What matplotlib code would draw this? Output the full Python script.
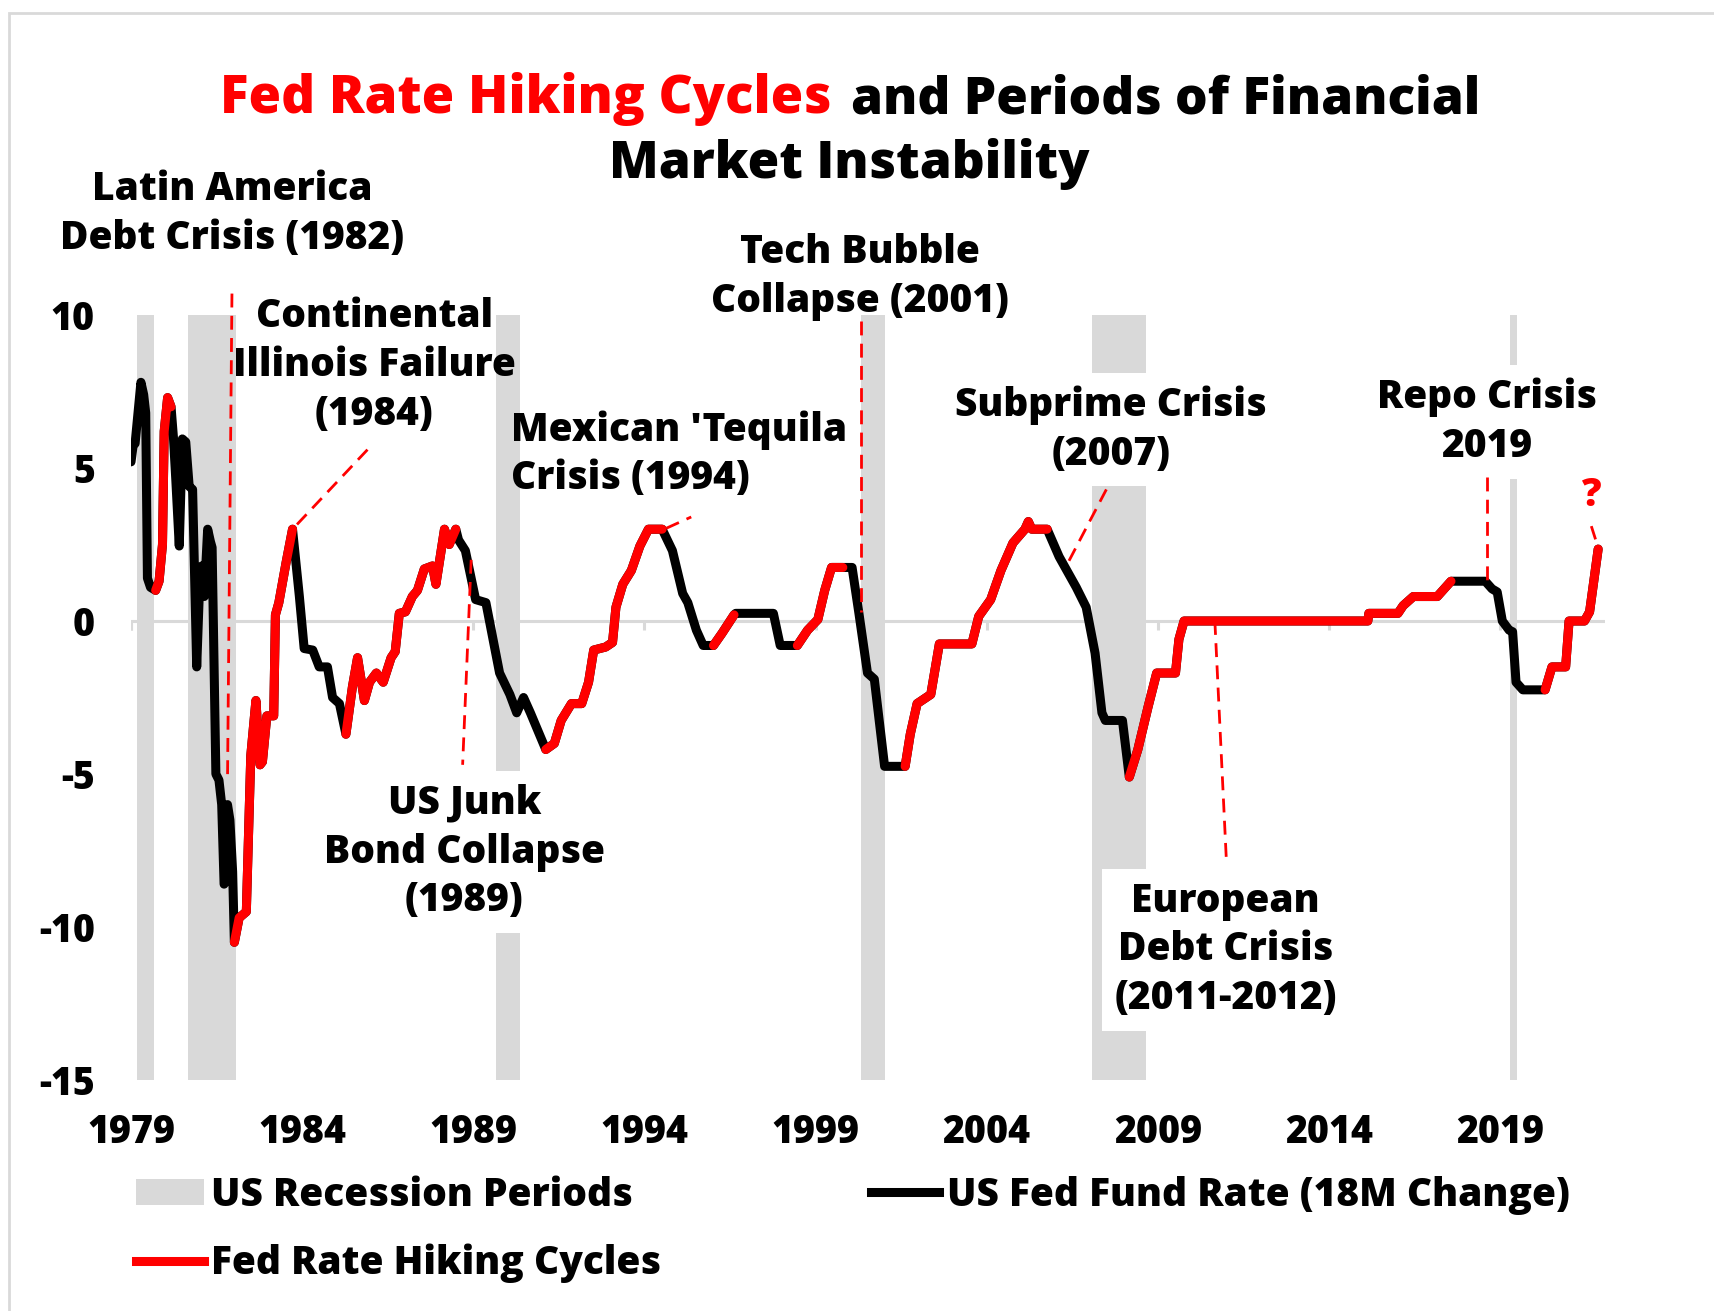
import matplotlib
matplotlib.use('Agg')
import matplotlib.pyplot as plt
import numpy as np
from matplotlib.patches import Patch, Rectangle
from matplotlib.lines import Line2D

plt.rcParams['font.family'] = ['Open Sans', 'DejaVu Sans']
plt.rcParams['font.weight'] = 800
plt.rcParams['axes.unicode_minus'] = False

# 18-month change in the Fed Funds rate (decimal year, percentage points)
dates = [1979.83, 1979.9, 1979.95, 1980.12, 1980.2, 1980.26, 1980.31, 1980.4, 1980.55,
         1980.65, 1980.75, 1980.8, 1980.9, 1981.0,
         1981.07, 1981.14, 1981.24, 1981.33, 1981.43, 1981.53, 1981.63, 1981.75, 1981.82,
         1981.9, 1981.97, 1982.07, 1982.15, 1982.2, 1982.31, 1982.4, 1982.48, 1982.55,
         1982.6, 1982.65, 1982.72, 1982.8, 1982.85,
         1982.99, 1983.2, 1983.33, 1983.48, 1983.6, 1983.67, 1983.8, 1984.0, 1984.05,
         1984.15, 1984.36, 1984.55,
         1984.75, 1984.89, 1985.14, 1985.33, 1985.57, 1985.72, 1985.92, 1986.11,
         1986.3, 1986.45, 1986.65, 1986.8, 1987.0, 1987.2, 1987.43, 1987.55, 1987.67,
         1987.85, 1988.05, 1988.2, 1988.4, 1988.64, 1988.74, 1988.99, 1989.13, 1989.32,
         1989.4, 1989.6, 1989.9, 1990.2, 1990.6, 1990.9, 1991.1, 1991.3, 1991.5, 1991.95,
         1992.2, 1992.4, 1992.7, 1993.0, 1993.2, 1993.35, 1993.7, 1993.9, 1994.0, 1994.2,
         1994.45, 1994.7, 1994.95, 1995.35,
         1995.65, 1995.95, 1996.1, 1996.35, 1996.55, 1996.85,
         1997.1, 1997.45,
         1997.5, 1998.6, 1998.8, 1999.3,
         1999.6, 1999.9, 2000.1, 2000.3, 2000.63,
         2000.9, 2001.1, 2001.35, 2001.55, 2001.85, 2002.45,
         2002.6, 2002.8, 2003.2, 2003.45, 2004.4, 2004.6, 2004.95, 2005.25, 2005.6,
         2005.95, 2006.05, 2006.15, 2006.6,
         2006.95, 2007.45, 2007.74, 2008.0, 2008.2, 2008.3, 2008.8, 2009.0,
         2009.25, 2009.55, 2009.8, 2010.35, 2010.45, 2010.6,
         2015.97,
         2016.0, 2016.85, 2017.0, 2017.3, 2018.0, 2018.2, 2018.4,
         2019.4, 2019.6, 2019.75, 2019.9, 2020.1, 2020.2, 2020.3, 2020.5, 2021.15,
         2021.35, 2021.75, 2021.85, 2022.3, 2022.45, 2022.7]
rate_chg = [5.2, 5.8, 5.8, 7.8, 7.4, 6.8, 1.4, 1.1, 1.0,
            1.3, 2.5, 6.2, 7.3, 7.0,
            6.0, 4.6, 2.45, 5.95, 5.85, 4.4, 4.3, -1.5, 0.7,
            1.8, 0.8, 3.0, 2.6, 2.4, -5.0, -5.2, -6.0, -8.6,
            -8.5, -6.0, -6.5, -8.2, -10.5,
            -9.7, -9.5, -4.4, -2.6, -4.7, -4.6, -3.1, -3.1, 0.2,
            0.6, 1.9, 3.0,
            0.8, -0.9, -0.95, -1.5, -1.5, -2.5, -2.7, -3.7,
            -2.15, -1.2, -2.6, -2.0, -1.7, -2.0, -1.2, -1.0, 0.25,
            0.3, 0.8, 1.0, 1.7, 1.8, 1.2, 3.0, 2.5, 3.0,
            2.65, 2.3, 0.7, 0.6, -1.7, -2.4, -3.0, -2.5, -3.0, -4.2,
            -4.0, -3.25, -2.7, -2.7, -2.0, -0.95, -0.85, -0.7, 0.45, 1.2,
            1.65, 2.45, 3.0, 3.0,
            2.3, 0.9, 0.6, -0.3, -0.8, -0.8,
            -0.4, 0.2,
            0.25, 0.25, -0.8, -0.8,
            -0.3, 0.05, 1.0, 1.75, 1.75,
            1.75, 0.25, -1.7, -1.9, -4.75, -4.75,
            -3.7, -2.7, -2.4, -0.75, -0.75, 0.15, 0.7, 1.65, 2.55,
            3.0, 3.25, 3.0, 3.0,
            2.1, 1.1, 0.45, -1.05, -3.0, -3.25, -3.25, -5.1,
            -4.2, -2.8, -1.7, -1.7, -0.6, 0.0,
            0.0,
            0.25, 0.25, 0.5, 0.8, 0.8, 1.05, 1.3,
            1.3, 1.05, 0.95, 0.0, -0.3, -0.35, -2.0, -2.25, -2.25,
            -1.5, -1.5, 0.0, 0.0, 0.3, 2.35]

hike_start = [1980.55, 1982.85, 1986.11, 1991.95, 1996.85, 1999.3, 2002.45, 2009.0, 2015.97, 2021.15]
hike_end = [1981.0, 1984.55, 1989.32, 1995.35, 1997.45, 2000.63, 2006.6, 2010.6, 2018.4, 2022.7]

rec_start = [1980.0, 1981.5, 1990.5, 2001.17, 2007.92, 2020.12]
rec_end = [1980.5, 1982.9, 1991.2, 2001.85, 2009.5, 2020.33]

tick_years = [1979, 1984, 1989, 1994, 1999, 2004, 2009, 2014, 2019]
y_ticks = [10, 5, 0, -5, -10, -15]

# crisis labels: text, x, y, alignment, white box behind
labels = [
    ("Latin America\nDebt Crisis (1982)", 1982.78, 13.3, 'center', False),
    ("Continental\nIllinois Failure\n(1984)", 1986.94, 8.35, 'center', False),
    ("Mexican 'Tequila\nCrisis (1994)", 1990.93, 5.45, 'left', False),
    ("Tech Bubble\nCollapse (2001)", 2001.13, 11.25, 'center', False),
    ("Subprime Crisis\n(2007)", 2008.46, 6.25, 'center', True),
    ("Repo Crisis\n2019", 2019.45, 6.5, 'center', True),
    ("US Junk\nBond Collapse\n(1989)", 1989.57, -7.55, 'center', True),
    ("European\nDebt Crisis\n(2011-2012)", 2011.82, -10.75, 'center', True),
]
# dashed leader lines: (x0, x1), (y0, y1)
leaders = [
    ((1982.78, 1982.65), (10.7, -5.2)),
    ((1986.74, 1984.55), (5.6, 3.0)),
    ((1995.47, 1996.2), (3.03, 3.4)),
    ((2001.17, 2001.17), (9.8, 0.3)),
    ((2008.33, 2007.16), (4.3, 1.8)),
    ((2019.44, 2019.44), (4.7, 1.3)),
    ((1989.77, 1989.52), (2.0, -4.7)),
    ((2011.5, 2011.84), (0.0, -7.9)),
    ((2022.5, 2022.7), (3.1, 2.4)),
]

GREY = '#d9d9d9'
RED = '#ff0000'

fig = plt.figure(figsize=(17.14, 13.11), dpi=100)
ax = fig.add_axes([131 / 1714, 1 - 1080 / 1311, (1605 - 131) / 1714, (1080 - 315) / 1311])

d = np.array(dates)
v = np.array(rate_chg)
in_hike = np.zeros(len(d), dtype=bool)
for s, e in zip(hike_start, hike_end):
    in_hike |= (d >= s - 1e-6) & (d <= e + 1e-6)
red_v = np.where(in_hike, v, np.nan)

for s, e in zip(rec_start, rec_end):
    ax.axvspan(s, e, color=GREY, lw=0, zorder=1)

ax.axhline(0, color=GREY, lw=2.2, zorder=2)
tick_pos = [y + 10 / 12 for y in tick_years]
ax.vlines([dates[0]] + tick_pos, 0, -0.3, color=GREY, lw=2.2, zorder=2)

ax.plot(d, v, color='black', lw=6.5, solid_joinstyle='round', solid_capstyle='round', zorder=6)
ax.plot(d, red_v, color=RED, lw=6.5, solid_joinstyle='round', solid_capstyle='round', zorder=7)

for txt, x, y, ha, boxed in labels:
    box = dict(facecolor='white', edgecolor='none', pad=9) if boxed else None
    ax.text(x, y, txt, ha=ha, va='center', fontsize=28, linespacing=1.33, zorder=5, bbox=box)
for xs, ys in leaders:
    ax.plot(xs, ys, color=RED, lw=2, dashes=(5, 3), zorder=8, clip_on=False)
ax.text(2022.5, 4.1, '?', color=RED, ha='center', va='center', fontsize=28, zorder=8)

ax.set_xlim(dates[0], 2022.9)
ax.set_ylim(-15, 10)
ax.set_xticks(tick_pos)
ax.set_xticklabels([str(t) for t in tick_years])
ax.set_yticks(y_ticks)
ax.tick_params(axis='both', length=0, labelsize=27)
ax.tick_params(axis='x', pad=24)
ax.tick_params(axis='y', pad=26)
for sp in ax.spines.values():
    sp.set_visible(False)

fig.text(831 / 1714, 1 - 113 / 1311, 'Fed Rate Hiking Cycles', color=RED, ha='right', va='baseline',
         fontsize=38)
fig.text(851 / 1714, 1 - 113 / 1311, 'and Periods of Financial', color='black', ha='left', va='baseline',
         fontsize=37)
fig.text(849 / 1714, 1 - 178 / 1311, 'Market Instability', color='black', ha='center', va='baseline',
         fontsize=37)

handles = [Patch(facecolor=GREY, edgecolor='none', label='US Recession Periods'),
           Line2D([], [], color=RED, lw=6.5, label='Fed Rate Hiking Cycles'),
           Line2D([], [], color='black', lw=6.5, label='US Fed Fund Rate (18M Change)')]
fig.legend(handles=handles, loc='upper left', bbox_to_anchor=(120 / 1714, 1 - 1160 / 1311), ncol=2,
           frameon=False, fontsize=28, handlelength=1.75, handleheight=0.65, handletextpad=0.2,
           columnspacing=5.4, labelspacing=0.75, borderaxespad=0)

fig.add_artist(Rectangle((9 / 1714, -0.1), 1.2, 1.1 - 13 / 1311, transform=fig.transFigure,
                         fill=False, edgecolor=GREY, lw=2))

fig.savefig('out.png', dpi=100)
